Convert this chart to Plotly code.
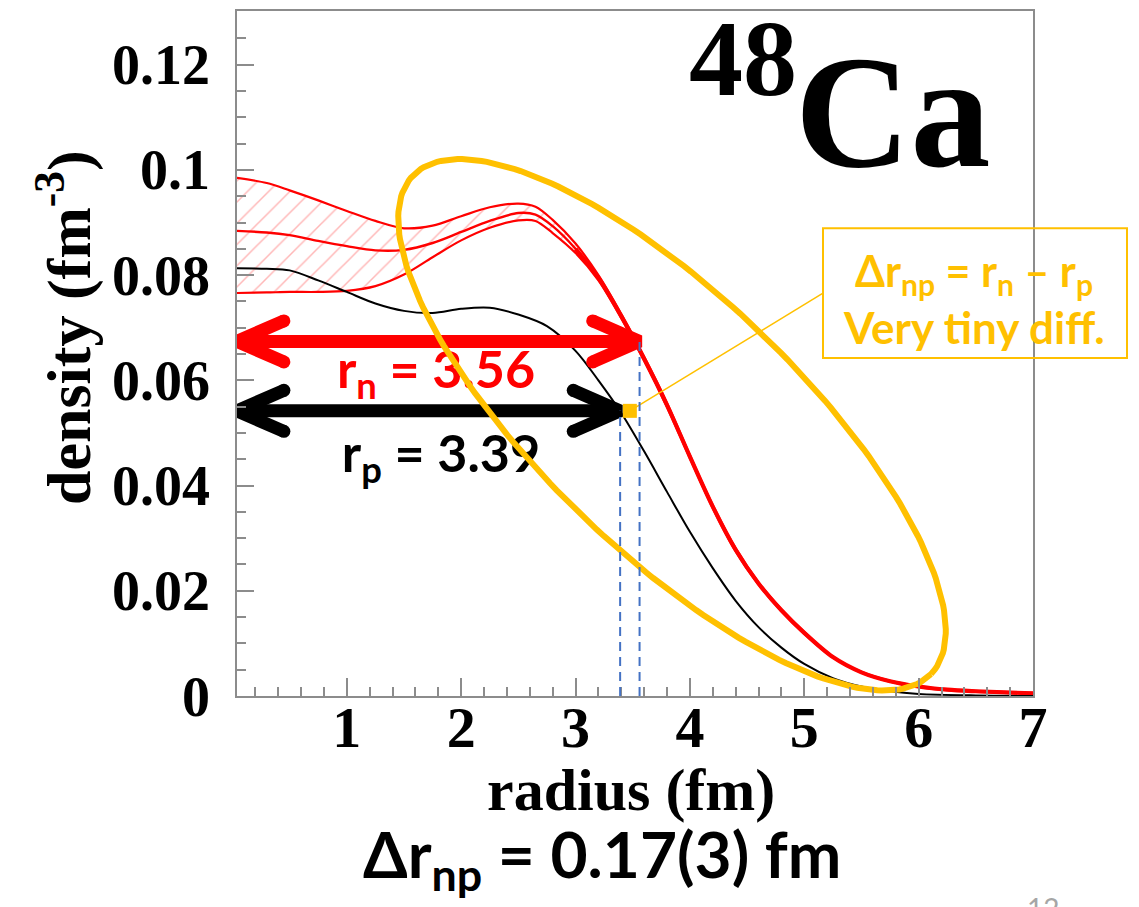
import numpy as np
import plotly.graph_objects as go

# ---- density profiles of 48Ca (fm^-3) ----
radius_p = [0.04, 0.3, 0.5, 0.75, 1.0, 1.25, 1.5, 1.75, 2.0, 2.25, 2.5, 2.75, 3.0, 3.2,
            3.4, 3.6, 3.8, 4.0, 4.2, 4.4, 4.6, 4.8, 5.0, 5.25, 5.5, 5.75, 6.0, 6.5, 7.0]
dens_p = [0.0813, 0.0812, 0.0809, 0.0790, 0.0768, 0.0746, 0.0732, 0.0728, 0.0736, 0.0738,
          0.0725, 0.0703, 0.0656, 0.0600, 0.0538, 0.0465, 0.0388, 0.0312, 0.0243, 0.0181,
          0.0131, 0.0092, 0.0061, 0.0034, 0.0018, 0.0009, 0.0004, 0.0001, 0.0000]

radius_n = [0.04, 0.3, 0.5, 0.75, 1.0, 1.25, 1.5, 1.75, 2.0, 2.25, 2.5, 2.65, 2.8, 3.0, 3.2,
            3.4, 3.6, 3.8, 4.0, 4.2, 4.4, 4.6, 4.8, 5.0, 5.25, 5.5, 5.75, 6.0, 6.25, 6.5, 7.0]
dens_n = [0.0884, 0.0881, 0.0876, 0.0865, 0.0855, 0.0847, 0.0848, 0.0861, 0.0882, 0.0903,
          0.0918, 0.0915, 0.0893, 0.0850, 0.0795, 0.0722, 0.0641, 0.0553, 0.0455, 0.0360,
          0.0278, 0.0214, 0.0163, 0.0120, 0.0074, 0.0045, 0.0028, 0.0018, 0.0012, 0.0009, 0.0005]
dens_n_hi = [0.0985, 0.0975, 0.0961, 0.0942, 0.0922, 0.0903, 0.0889, 0.0894, 0.0912, 0.0929,
             0.0936, 0.0930, 0.0905, 0.0860, 0.0800, 0.0726, 0.0645, 0.0557, 0.0458, 0.0363,
             0.0281, 0.0216, 0.0165, 0.0122, 0.0075, 0.0046, 0.0029, 0.0019, 0.0013, 0.0010, 0.0006]
dens_n_lo = [0.0766, 0.0767, 0.0768, 0.0768, 0.0770, 0.0779, 0.0801, 0.0834, 0.0866, 0.0890,
             0.0904, 0.0903, 0.0880, 0.0842, 0.0790, 0.0718, 0.0637, 0.0549, 0.0452, 0.0357,
             0.0275, 0.0212, 0.0161, 0.0118, 0.0073, 0.0044, 0.0027, 0.0017, 0.0011, 0.0008, 0.0004]

# radii (fm) and the density level at which each is marked
r_n = 3.56
r_p = 3.39
level_n = 0.0674
level_p = 0.0542
delta_rnp_text = "0.17(3)"

x_tick_vals = [1, 2, 3, 4, 5, 6, 7]
y_tick_vals = [0, 0.02, 0.04, 0.06, 0.08, 0.1, 0.12]
y_tick_text = ["0", "0.02", "0.04", "0.06", "0.08", "0.1", "0.12"]

# ---- canvas geometry ----
W, H = 1139, 907
ML, MR, MT, MB = 237, 106, 9, 211
X_RANGE = [0.04, 7.0]
Y_RANGE = [0.0, 0.1302]
PW = W - ML - MR
PH = H - MT - MB

RED = "#FF0000"
ORANGE = "#FFC000"
BLUE = "#4472C4"
AXIS_GREY = "#8C8C8C"
SERIF = "Liberation Serif"
SANS = "Lato"
SMOOTH = 0.9


def px_to_data(px, py):
    x = X_RANGE[0] + (px - ML) / PW * (X_RANGE[1] - X_RANGE[0])
    y = Y_RANGE[0] + (H - MB - py) / PH * (Y_RANGE[1] - Y_RANGE[0])
    return x, y


def px_to_paper(px, py):
    return (px - ML) / PW, (H - MB - py) / PH


fig = go.Figure()

# neutron uncertainty band (hatched) and its edges
fig.add_trace(go.Scatter(x=radius_n, y=dens_n_lo, mode="lines",
                         line=dict(color=RED, width=2.2, shape="spline", smoothing=SMOOTH),
                         showlegend=False, hoverinfo="skip"))
fig.add_trace(go.Scatter(x=radius_n, y=dens_n_hi, mode="lines",
                         line=dict(color=RED, width=2.2, shape="spline", smoothing=SMOOTH),
                         fill="tonexty", fillcolor="rgba(0,0,0,0)",
                         fillpattern=dict(shape="/", fgcolor="#FF7070", bgcolor="rgba(0,0,0,0)",
                                          size=15, solidity=0.1),
                         showlegend=False, hoverinfo="skip"))
fig.add_trace(go.Scatter(x=radius_n, y=dens_n, mode="lines",
                         line=dict(color=RED, width=2.4, shape="spline", smoothing=SMOOTH),
                         showlegend=False, hoverinfo="skip"))
# where the band has closed up the three edges merge into one heavier line
i_merge = radius_n.index(3.0)
fig.add_trace(go.Scatter(x=radius_n[i_merge:], y=dens_n[i_merge:], mode="lines",
                         line=dict(color=RED, width=4.2, shape="spline", smoothing=SMOOTH),
                         showlegend=False, hoverinfo="skip"))
# proton density
fig.add_trace(go.Scatter(x=radius_p, y=dens_p, mode="lines",
                         line=dict(color="black", width=2, shape="spline", smoothing=SMOOTH),
                         showlegend=False, hoverinfo="skip"))

# dashed markers of the two radii
for rr, lv in [(r_n, level_n), (r_p, level_p)]:
    fig.add_shape(type="line", xref="x", yref="y", x0=rr, x1=rr, y0=Y_RANGE[0], y1=lv,
                  line=dict(color=BLUE, width=2, dash="9px,6px"))

# double-headed radius arrows
HEAD_DX = 0.41
HEAD_DY = 0.0039


def add_arrow(x_end, level, color):
    x0 = X_RANGE[0]
    xs = [x0, x_end, None,
          x_end - HEAD_DX, x_end, x_end - HEAD_DX, None,
          x0 + HEAD_DX, x0, x0 + HEAD_DX]
    ys = [level, level, None,
          level + HEAD_DY, level, level - HEAD_DY, None,
          level + HEAD_DY, level, level - HEAD_DY]
    fig.add_trace(go.Scatter(x=xs, y=ys, mode="lines", line=dict(color=color, width=13),
                             showlegend=False, hoverinfo="skip", connectgaps=False))
    fig.add_trace(go.Scatter(x=[x_end - HEAD_DX, x_end - HEAD_DX, x0 + HEAD_DX, x0 + HEAD_DX],
                             y=[level + HEAD_DY, level - HEAD_DY, level + HEAD_DY, level - HEAD_DY],
                             mode="markers", marker=dict(color=color, size=13, line=dict(width=0)),
                             showlegend=False, hoverinfo="skip"))


add_arrow(r_n, level_n, RED)
add_arrow(r_p, level_p, "black")

# radius labels
tx, ty = px_to_data(436, 374)
fig.add_trace(go.Scatter(x=[tx], y=[ty], mode="text", text=["<b>r<sub>n</sub> = %.2f</b>" % r_n],
                         textfont=dict(family=SANS, size=52, color=RED), textposition="middle center",
                         showlegend=False, hoverinfo="skip", cliponaxis=False))
tx, ty = px_to_data(441, 458)
fig.add_trace(go.Scatter(x=[tx], y=[ty], mode="text", text=["<b>r<sub>p</sub> = %.2f</b>" % r_p],
                         textfont=dict(family=SANS, size=52, color="black"), textposition="middle center",
                         showlegend=False, hoverinfo="skip", cliponaxis=False))

# highlight ellipse around the surface region
ecx, ecy, ea, eb, eang = 672, 424, 360, 128, np.deg2rad(44)
t = np.linspace(0, 2 * np.pi, 241)
ex = ecx + ea * np.cos(t) * np.cos(eang) - eb * np.sin(t) * np.sin(eang)
ey = ecy + ea * np.cos(t) * np.sin(eang) + eb * np.sin(t) * np.cos(eang)
edx, edy = px_to_data(ex, ey)
fig.add_trace(go.Scatter(x=edx, y=edy, mode="lines", line=dict(color=ORANGE, width=6),
                         showlegend=False, hoverinfo="skip"))

# callout: square at the mid radius, leader line and text box
r_mid = 0.5 * (r_n + r_p)
box_l, box_t, box_r, box_b = 823, 227, 1127, 357
lead_x, lead_y = px_to_data(box_l, 292)
fig.add_trace(go.Scatter(x=[r_mid, lead_x], y=[level_p, lead_y], mode="lines",
                         line=dict(color=ORANGE, width=1.5), showlegend=False, hoverinfo="skip"))
fig.add_trace(go.Scatter(x=[r_mid], y=[level_p], mode="markers",
                         marker=dict(symbol="square", color=ORANGE, size=14, line=dict(width=0)),
                         showlegend=False, hoverinfo="skip"))

bx0, by0 = px_to_paper(box_l, box_b)
bx1, by1 = px_to_paper(box_r, box_t)
fig.add_shape(type="rect", xref="paper", yref="paper", x0=bx0, x1=bx1, y0=by0, y1=by1,
              line=dict(color=ORANGE, width=2), fillcolor="rgba(0,0,0,0)", layer="above")


def ann(px, py, text, size, color="black", family=SERIF, angle=0, xanchor="center", yanchor="middle"):
    ax, ay = px_to_paper(px, py)
    fig.add_annotation(x=ax, y=ay, xref="paper", yref="paper", text=text, showarrow=False,
                       font=dict(family=family, size=size, color=color), textangle=angle,
                       xanchor=xanchor, yanchor=yanchor)


ann(974, 272, "<b>\u0394r<sub>np</sub> = r<sub>n</sub> \u2013 r<sub>p</sub></b>", 43, ORANGE, SANS)
ann(974, 326, "<b>Very tiny diff.</b>", 44, ORANGE, SANS)

# nucleus label
ann(743, 57, "<b>48</b>", 108)
ann(893, 110, "<b>Ca</b>", 160)

# axis titles
ann(631, 790, "<b>radius (fm)</b>", 60)
ann(64, 327, "<b>density (fm<sup>-3</sup>)</b>", 62, angle=-90)

# summary line and page number
ann(602, 858, "<b>\u0394r<sub>np</sub> = %s fm</b>" % delta_rnp_text, 64, "black", SANS)
ann(1043, 890, "12", 28, "#A6A6A6", SANS, yanchor="top")

fig.update_xaxes(range=X_RANGE, tickmode="array", tickvals=x_tick_vals,
                 ticks="inside", ticklen=18, tickwidth=1.5, tickcolor=AXIS_GREY,
                 minor=dict(ticks="inside", ticklen=9, tickwidth=1.5, tickcolor=AXIS_GREY,
                            tickmode="array", tickvals=list(np.round(np.arange(0.2, 7.0, 0.2), 2))),
                 showline=True, linecolor=AXIS_GREY, linewidth=1.5, mirror=True,
                 showgrid=False, zeroline=False, ticklabelstandoff=-20,
                 tickfont=dict(family=SERIF, size=58, color="black", weight="bold"))
fig.update_yaxes(range=Y_RANGE, tickmode="array", tickvals=y_tick_vals, ticktext=y_tick_text,
                 ticks="inside", ticklen=17, tickwidth=1.5, tickcolor=AXIS_GREY,
                 minor=dict(ticks="inside", ticklen=9, tickwidth=1.5, tickcolor=AXIS_GREY,
                            tickmode="array", tickvals=list(np.round(np.arange(0.005, 0.13, 0.005), 3))),
                 showline=True, linecolor=AXIS_GREY, linewidth=1.5, mirror=True,
                 showgrid=False, zeroline=False, ticklabelstandoff=14,
                 tickfont=dict(family=SERIF, size=56, color="black", weight="bold"))

fig.update_layout(width=W, height=H, autosize=False,
                  margin=dict(l=ML, r=MR, t=MT, b=MB, pad=0),
                  paper_bgcolor="white", plot_bgcolor="white", showlegend=False)

fig.write_html("out.html")
